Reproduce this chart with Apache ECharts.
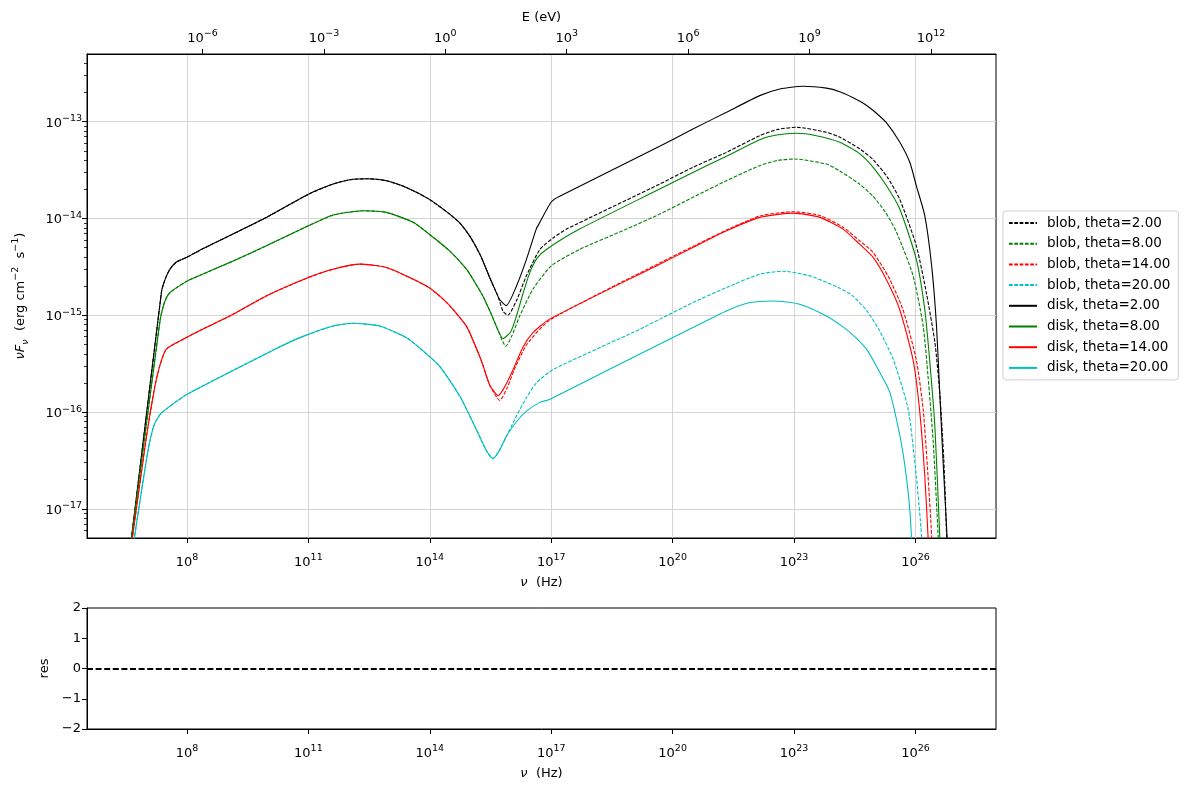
<!DOCTYPE html>
<html><head><meta charset="utf-8">
<script src="https://cdn.jsdelivr.net/npm/echarts@6/dist/echarts.min.js"></script>
<style>html,body{margin:0;padding:0;background:#fff}#c{width:1189px;height:789px}</style>
</head><body><div id="c"></div>
<script>
// All values are log10(nu [Hz]) and log10(nuFnu [erg cm^-2 s^-1])
const xTicks = [8, 11, 14, 17, 20, 23, 26];
const eTicks = [-6, -3, 0, 3, 6, 9, 12];
const yTicks = [-17, -16, -15, -14, -13];
const resTicks = [-2, -1, 0, 1, 2];
const seriesNames = ['blob, theta=2.00','blob, theta=8.00','blob, theta=14.00','blob, theta=20.00',
                     'disk, theta=2.00','disk, theta=8.00','disk, theta=14.00','disk, theta=20.00'];

// synchrotron parts (shared by blob and disk)
const sync2 = [[6.55,-17.55],[6.63,-17.30],[7.37,-14.76],[7.45,-14.64],[7.57,-14.53],[7.74,-14.45],[8.0,-14.40],
  [8.31,-14.33],[9.96,-13.99],[11.0,-13.75],[11.61,-13.645],[12.02,-13.60],[12.47,-13.59],[12.93,-13.61],
  [13.42,-13.68],[13.98,-13.80],[14.49,-13.955],[14.75,-14.05],[15.0,-14.19],[15.25,-14.38],[15.48,-14.61],[15.69,-14.81]];
const sync8 = [[6.55,-17.55],[6.63,-17.30],[7.24,-15.35],[7.35,-15.02],[7.45,-14.86],[7.57,-14.77],[7.99,-14.65],
  [8.31,-14.59],[9.14,-14.44],[9.96,-14.283],[11.0,-14.076],[11.61,-13.965],[12.35,-13.92],[12.93,-13.937],
  [13.59,-14.04],[13.98,-14.16],[14.49,-14.335],[14.90,-14.52],[15.07,-14.63],[15.31,-14.80],[15.51,-14.98],[15.65,-15.12]];
const sync14 = [[6.57,-17.55],[6.65,-17.30],[7.0,-16.25],[7.2,-15.75],[7.33,-15.52],[7.49,-15.35],[7.99,-15.23],
  [8.31,-15.16],[9.14,-14.99],[9.96,-14.80],[11.0,-14.61],[11.61,-14.524],[12.27,-14.472],[12.93,-14.506],
  [13.59,-14.628],[13.98,-14.714],[14.24,-14.80],[14.49,-14.90],[14.90,-15.11],[15.11,-15.30],[15.30,-15.50],[15.48,-15.72]];
const sync20 = [[6.62,-17.55],[6.70,-17.30],[7.04,-16.39],[7.2,-16.12],[7.37,-16.01],[7.99,-15.82],
  [10.17,-15.352],[10.79,-15.231],[11.61,-15.111],[12.10,-15.083],[12.76,-15.111],[13.42,-15.231],[13.79,-15.352],
  [14.24,-15.525],[14.74,-15.835],[15.15,-16.18],[15.4,-16.40],[15.56,-16.48]];

// high-energy parts
const blobTail2 = [[15.81,-14.96],[15.93,-15.0],[16.14,-14.85],[16.39,-14.59],[16.72,-14.32],[17.05,-14.20],
  [17.38,-14.11],[19.68,-13.645],[20.50,-13.472],[21.33,-13.317],[22.15,-13.145],[22.6,-13.08],[23.06,-13.058],
  [23.80,-13.11],[24.13,-13.16],[24.62,-13.28],[24.95,-13.39],[25.3,-13.57],[25.61,-13.80],[26.02,-14.28],
  [26.27,-14.77],[26.48,-15.28],[26.60,-15.80],[26.70,-16.49],[26.77,-17.28],[26.82,-17.9]];
const diskTail2 = [[15.73,-14.84],[15.89,-14.90],[16.14,-14.70],[16.39,-14.42],[16.63,-14.11],[16.72,-14.04],
  [17.0,-13.83],[17.21,-13.77],[19.68,-13.254],[20.50,-13.076],[21.33,-12.903],[22.15,-12.731],[22.65,-12.662],
  [23.22,-12.634],[23.80,-12.654],[24.13,-12.69],[24.45,-12.75],[24.75,-12.82],[25.0,-12.90],[25.28,-13.01],
  [25.61,-13.21],[25.86,-13.42],[26.02,-13.66],[26.23,-13.97],[26.40,-14.49],[26.52,-15.11],[26.60,-15.80],
  [26.68,-16.49],[26.78,-17.28],[26.85,-17.9]];
const blobTail8 = [[15.88,-15.32],[16.02,-15.22],[16.22,-15.01],[16.55,-14.73],[17.0,-14.49],[17.7,-14.32],
  [18.86,-14.11],[19.68,-13.955],[20.50,-13.782],[21.33,-13.61],[22.15,-13.455],[22.6,-13.40],[23.02,-13.386],
  [23.80,-13.438],[24.13,-13.51],[24.62,-13.645],[24.95,-13.77],[25.25,-13.93],[25.53,-14.14],[25.94,-14.59],
  [26.19,-15.11],[26.31,-15.63],[26.44,-16.32],[26.56,-17.28],[26.62,-17.9]];
const diskTail8 = [[15.81,-15.24],[16.0,-15.17],[16.14,-15.01],[16.30,-14.78],[16.47,-14.56],[16.65,-14.41],
  [16.88,-14.32],[17.7,-14.11],[19.68,-13.696],[20.50,-13.524],[21.33,-13.358],[22.15,-13.186],[22.57,-13.138],
  [23.06,-13.12],[23.55,-13.145],[24.13,-13.213],[24.62,-13.33],[24.95,-13.47],[25.28,-13.66],[25.61,-13.90],
  [26.02,-14.42],[26.23,-14.94],[26.35,-15.46],[26.48,-16.15],[26.60,-17.28],[26.66,-17.9]];
const blobTail14 = [[15.73,-15.88],[15.9,-15.76],[16.1,-15.55],[16.4,-15.30],[16.96,-15.05],[19.68,-14.46],
  [20.50,-14.29],[21.33,-14.12],[22.15,-13.975],[22.98,-13.93],[23.64,-13.97],[24.21,-14.09],[24.62,-14.23],
  [24.95,-14.35],[25.33,-14.60],[25.69,-14.94],[26.02,-15.46],[26.19,-15.97],[26.31,-16.66],[26.40,-17.28],[26.45,-17.9]];
const diskTail14 = [[15.69,-15.83],[15.85,-15.74],[16.06,-15.56],[16.3,-15.33],[16.55,-15.18],[16.96,-15.04],
  [19.68,-14.473],[20.50,-14.30],[21.33,-14.128],[22.15,-13.989],[22.98,-13.945],[23.64,-13.989],[24.21,-14.11],
  [24.62,-14.265],[24.95,-14.40],[25.28,-14.63],[25.61,-14.94],[25.94,-15.46],[26.1,-15.97],[26.23,-16.66],
  [26.31,-17.28],[26.36,-17.9]];
const blobTail20 = [[15.8,-16.33],[16.14,-16.04],[16.39,-15.85],[16.63,-15.70],[17.05,-15.56],[19.19,-15.145],
  [19.68,-15.041],[20.50,-14.869],[21.33,-14.714],[22.15,-14.576],[22.73,-14.545],[23.39,-14.593],[23.8,-14.66],
  [24.13,-14.72],[24.45,-14.80],[24.79,-14.95],[25.1,-15.15],[25.45,-15.455],[25.82,-15.97],[26.02,-16.66],
  [26.15,-17.28],[26.2,-17.9]];
const diskTail20 = [[15.72,-16.40],[15.89,-16.25],[16.14,-16.10],[16.39,-15.99],[16.72,-15.90],[16.96,-15.87],
  [19.19,-15.40],[20.50,-15.127],[21.33,-14.955],[21.91,-14.869],[22.48,-14.852],[23.14,-14.886],[23.80,-15.007],
  [24.21,-15.12],[24.5,-15.22],[24.79,-15.35],[25.08,-15.56],[25.37,-15.80],[25.65,-16.32],[25.82,-16.83],
  [25.90,-17.28],[25.95,-17.9]];

const curves = [
  sync2.concat(blobTail2), sync8.concat(blobTail8), sync14.concat(blobTail14), sync20.concat(blobTail20),
  sync2.concat(diskTail2), sync8.concat(diskTail8), sync14.concat(diskTail14), sync20.concat(diskTail20)];
const colors = ['#000000','#008000','#ff0000','#00bfbf','#000000','#008000','#ff0000','#00bfbf'];

const X_MIN = 5.53, X_MAX = 27.99;
const Y_MIN = Math.log10(5e-18), Y_MAX = Math.log10(5e-13);
const LOG_H = Math.log10(4.135667e-15); // eV s

const FONT = 'DejaVu Sans';
const yMinor = [];
for (let n = -18; n <= -13; n++) for (let k = 2; k <= 9; k++) {
  const v = n + Math.log10(k); if (v > Y_MIN && v < Y_MAX) yMinor.push(v);
}
const minus = v => (v < 0 ? '\u2212' + Math.abs(v) : '' + v);
const powLabel = v => '{b|10}{s|' + minus(Math.round(v)) + '}';
const powRich = {
  b: {fontSize: 13, fontFamily: FONT, color: '#000', lineHeight: 16, verticalAlign: 'bottom'},
  s: {fontSize: 9.5, fontFamily: FONT, color: '#000', lineHeight: 10, verticalAlign: 'top'}
};
const tickStyle = {show: true, length: 5, lineStyle: {color: '#000', width: 1}};
const lineAx = {show: true, onZero: false, lineStyle: {color: '#000'}};

const chart = echarts.init(document.getElementById('c'), null, {renderer: 'canvas'});
const series = curves.map((d, i) => ({
  name: seriesNames[i], type: 'line', xAxisIndex: 0, yAxisIndex: 0, data: d,
  showSymbol: false, symbol: 'none', smooth: 0.2, clip: true, animation: false,
  lineStyle: {color: colors[i], width: 1.1, type: i < 4 ? [3.7, 1.6] : 'solid'},
  itemStyle: {color: colors[i]}, z: i < 4 ? 2 : 3
}));
series.push({
  type: 'line', xAxisIndex: 2, yAxisIndex: 2, data: [], animation: false,
  markLine: {silent: true, symbol: ['none', 'none'], label: {show: false},
    lineStyle: {color: '#000', type: [6, 2.6], width: 2}, data: [{yAxis: 0}]}
});

chart.setOption({
  animation: false,
  backgroundColor: '#fff',
  textStyle: {fontFamily: FONT},
  grid: [
    {left: 87, top: 54, width: 909, height: 484, show: true, borderColor: '#000', borderWidth: 1},
    {left: 87, top: 608, width: 909, height: 121, show: true, borderColor: '#000', borderWidth: 1}
  ],
  legend: {
    data: seriesNames, orient: 'vertical', left: 1003, top: 211,
    itemWidth: 28, itemHeight: 14, itemGap: 6.7, padding: [5, 8, 5, 5],
    itemStyle: {opacity: 0},
    borderColor: '#d0d0d0', borderWidth: 1, borderRadius: 3, backgroundColor: '#fff',
    textStyle: {fontSize: 13.5, fontFamily: FONT, color: '#000', padding: [0, 0, 0, 5]}
  },
  xAxis: [
    {type: 'value', gridIndex: 0, min: X_MIN, max: X_MAX, position: 'bottom',
     name: '{i|\u03bd}  (Hz)', nameLocation: 'middle', nameGap: 38,
     nameTextStyle: {fontSize: 13, fontFamily: FONT, color: '#000', rich: {i: {fontStyle: 'italic', fontSize: 13, fontFamily: FONT}}},
     axisLine: lineAx,
     axisTick: Object.assign({customValues: xTicks}, tickStyle),
     axisLabel: {customValues: xTicks, formatter: powLabel, rich: powRich, margin: 15},
     splitLine: {show: true, lineStyle: {color: '#d4d4d4', width: 1}}},
    {type: 'value', gridIndex: 0, min: X_MIN + LOG_H, max: X_MAX + LOG_H, position: 'top',
     name: 'E (eV)', nameLocation: 'middle', nameGap: 30,
     nameTextStyle: {fontSize: 13, fontFamily: FONT, color: '#000'},
     axisLine: lineAx,
     axisTick: Object.assign({customValues: eTicks}, tickStyle),
     axisLabel: {customValues: eTicks, formatter: powLabel, rich: powRich, margin: 9},
     splitLine: {show: false}},
    {type: 'value', gridIndex: 1, min: X_MIN, max: X_MAX, position: 'bottom',
     name: '{i|\u03bd}  (Hz)', nameLocation: 'middle', nameGap: 38,
     nameTextStyle: {fontSize: 13, fontFamily: FONT, color: '#000', rich: {i: {fontStyle: 'italic', fontSize: 13, fontFamily: FONT}}},
     axisLine: lineAx,
     axisTick: Object.assign({customValues: xTicks}, tickStyle),
     axisLabel: {customValues: xTicks, formatter: powLabel, rich: powRich, margin: 15},
     splitLine: {show: false}}
  ],
  yAxis: [
    {type: 'value', gridIndex: 0, min: Y_MIN, max: Y_MAX, position: 'left',
     name: '{i|\u03bdF}{sub|\u03bd}  (erg cm{sup|\u22122}  s{sup|\u22121})', nameLocation: 'middle', nameGap: 56, nameRotate: 90,
     nameTextStyle: {fontSize: 13, fontFamily: FONT, color: '#000', rich: {
       i: {fontStyle: 'italic', fontSize: 13, fontFamily: FONT, lineHeight: 20, verticalAlign: 'middle'},
       sub: {fontStyle: 'italic', fontSize: 9.5, fontFamily: FONT, lineHeight: 20, verticalAlign: 'bottom'},
       sup: {fontSize: 9.5, fontFamily: FONT, lineHeight: 20, verticalAlign: 'top'}}},
     axisLine: lineAx,
     axisTick: Object.assign({customValues: yTicks}, tickStyle),
     axisLabel: {customValues: yTicks, formatter: powLabel, rich: powRich, margin: 5},
     splitLine: {show: true, lineStyle: {color: '#d4d4d4', width: 1}}},
    {type: 'value', gridIndex: 0, min: Y_MIN, max: Y_MAX, position: 'left',
     axisLine: {show: false, onZero: false}, axisLabel: {show: false}, splitLine: {show: false},
     axisTick: {show: true, customValues: yMinor, length: 3, lineStyle: {color: '#000', width: 0.8}}},
    {type: 'value', gridIndex: 1, min: -2, max: 2, interval: 1, position: 'left',
     name: 'res', nameLocation: 'middle', nameGap: 35, nameRotate: 90,
     nameTextStyle: {fontSize: 13, fontFamily: FONT, color: '#000'},
     axisLine: lineAx,
     axisTick: tickStyle,
     axisLabel: {formatter: minus, fontSize: 13, fontFamily: FONT, color: '#000', margin: 6},
     splitLine: {show: false}}
  ],
  series: series
});
</script></body></html>
